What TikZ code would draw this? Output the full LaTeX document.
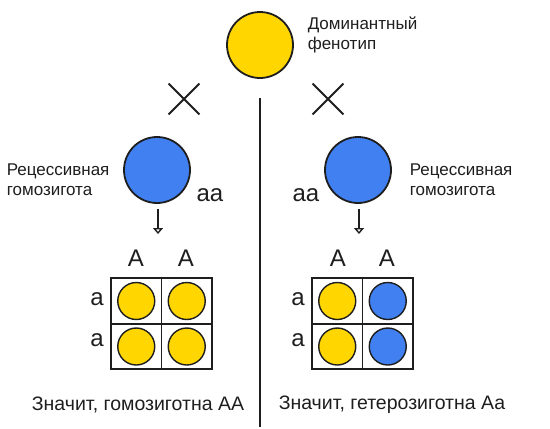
\documentclass[tikz,border=0pt]{standalone}
\usepackage{fontspec}
\setmainfont{Liberation Sans}
\usetikzlibrary{arrows.meta,shapes.misc}

\definecolor{domyellow}{RGB}{255,214,0}
\definecolor{recblue}{RGB}{64,128,240}
\definecolor{ink}{RGB}{30,30,30}

\begin{document}
\begin{tikzpicture}[x=1pt,y=-1pt,line width=1.6pt,
    ball/.style={circle,draw=ink,line width=1.8pt,inner sep=0pt},
    big ball/.style={ball,minimum size=66pt},
    small ball/.style={ball,minimum size=37pt,line width=1.4pt},
    cell/.style={rectangle,draw=ink,line width=1.6pt,minimum width=50.5pt,minimum height=45.5pt,inner sep=0pt},
    caption/.style={font=\fontsize{17}{20}\selectfont,text=ink,align=left,inner sep=0pt},
    allele/.style={font=\fontsize{24}{24}\selectfont,text=ink,inner sep=0pt},
    result/.style={font=\fontsize{19.5}{22}\selectfont,text=ink,inner sep=0pt},
    crossing/.style={cross out,draw=ink,line width=1.8pt,minimum size=29pt,inner sep=0pt},
    arr/.style={draw=ink,line width=1.4pt,-{Triangle[open,length=6pt,width=10pt]}}]

    \useasboundingbox (0,0) rectangle (550,429);

    % parents
    \node[big ball,fill=domyellow] (dom) at (260,45) {};
    \node[caption,anchor=west] (domtxt) at (307,35) {Доминантный\\фенотип};

    \node[crossing] (xl) at (184,99) {};
    \node[crossing] (xr) at (328,99) {};

    \node[big ball,fill=recblue] (lrec) at (157,170) {};
    \node[big ball,fill=recblue] (rrec) at (358,170) {};

    \node[caption,anchor=west] (lrectxt) at (6,180) {Рецессивная\\гомозигота};
    \node[caption,anchor=west] (rrectxt) at (409,180) {Рецессивная\\гомозигота};

    \node[allele] (laa) at (210,195) {aa};
    \node[allele] (raa) at (306,195) {aa};

    % divider
    \coordinate (divtop) at (260,98);
    \coordinate (divbot) at (260,427);
    \draw[ink,line width=1.9pt] (divtop) -- (divbot);

    % arrows
    \coordinate (larrtop) at (158,209);
    \coordinate (larrbot) at (158,234);
    \coordinate (rarrtop) at (359,209);
    \coordinate (rarrbot) at (359,234);
    \draw[arr] (larrtop) -- (larrbot);
    \draw[arr] (rarrtop) -- (rarrbot);

    % left square
    \node[cell] (l11) at (136.25,301) {};
    \node[cell] (l12) at (186.75,301) {};
    \node[cell] (l21) at (136.25,346.5) {};
    \node[cell] (l22) at (186.75,346.5) {};
    \node[small ball,fill=domyellow] (lb11) at (l11) {};
    \node[small ball,fill=domyellow] (lb12) at (l12) {};
    \node[small ball,fill=domyellow] (lb21) at (l21) {};
    \node[small ball,fill=domyellow] (lb22) at (l22) {};
    \node[allele] (lA1) at (136,258) {A};
    \node[allele] (lA2) at (186,258) {A};
    \node[allele] (la1) at (97,299) {a};
    \node[allele] (la2) at (97,340) {a};

    % right square
    \node[cell] (r11) at (337.25,301) {};
    \node[cell] (r12) at (387.75,301) {};
    \node[cell] (r21) at (337.25,346.5) {};
    \node[cell] (r22) at (387.75,346.5) {};
    \node[small ball,fill=domyellow] (rb11) at (r11) {};
    \node[small ball,fill=recblue] (rb12) at (r12) {};
    \node[small ball,fill=domyellow] (rb21) at (r21) {};
    \node[small ball,fill=recblue] (rb22) at (r22) {};
    \node[allele] (rA1) at (338,258) {A};
    \node[allele] (rA2) at (387,258) {A};
    \node[allele] (ra1) at (298,299) {a};
    \node[allele] (ra2) at (298,340) {a};

    % conclusions
    \node[result] (lres) at (138,405) {Значит, гомозиготна АА};
    \node[result] (rres) at (392,405) {Значит, гетерозиготна Аа};
\end{tikzpicture}
\end{document}
